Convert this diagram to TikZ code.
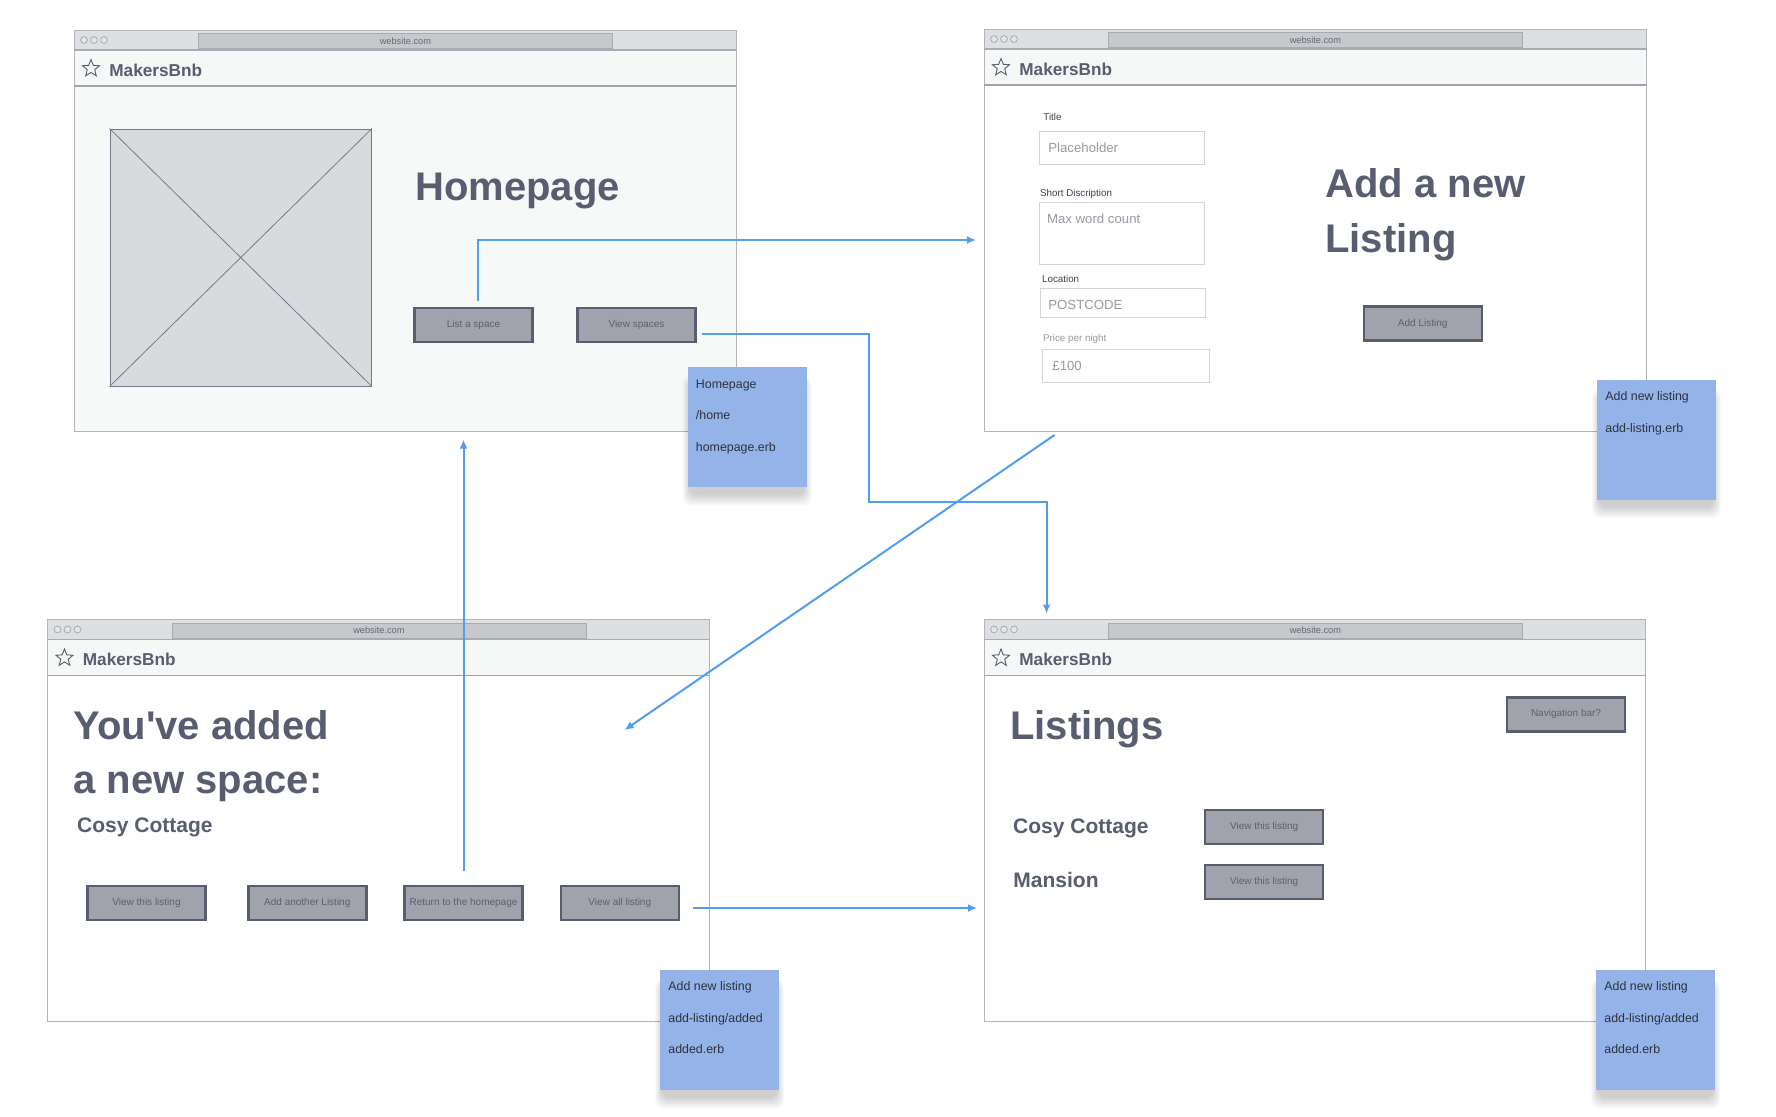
\documentclass[tikz,border=0pt]{standalone}
\usepackage{fontspec}
\setmainfont{Liberation Sans}
\newfontfamily\plainsans{Liberation Sans}
\usepackage{xcolor}
\definecolor{slate}{RGB}{88, 94, 112}
\definecolor{barfill}{RGB}{222, 223, 226}
\definecolor{headfill}{RGB}{246, 247, 247}
\definecolor{homebody}{RGB}{247, 248, 248}
\definecolor{urlfill}{RGB}{198, 200, 204}
\definecolor{urledge}{RGB}{168, 171, 177}
\definecolor{frameedge}{RGB}{178, 181, 188}
\definecolor{btnfill}{RGB}{160, 163, 171}
\definecolor{btntext}{RGB}{92, 96, 110}
\definecolor{urltext}{RGB}{100, 104, 116}
\definecolor{notefill}{RGB}{148, 179, 232}
\definecolor{notetext}{RGB}{45, 50, 62}
\definecolor{imgfill}{RGB}{217, 218, 221}
\definecolor{imgedge}{RGB}{118, 122, 135}
\definecolor{fieldedge}{RGB}{210, 212, 216}
\definecolor{phtext}{RGB}{150, 154, 163}
\definecolor{labeltext}{RGB}{60, 65, 78}
\definecolor{linkblue}{RGB}{82, 158, 238}
\usepackage{tikz}
\usetikzlibrary{positioning,arrows.meta,shapes.geometric}

\tikzset{
        pagetitle/.style={font=\fontsize{20}{24}\selectfont\bfseries, text=slate, inner sep=0pt, anchor=base west},
        itemname/.style={font=\fontsize{10.5}{12}\selectfont\bfseries, text=slate, inner sep=0pt, anchor=base west},
        brand/.style={font=\fontsize{8.6}{10}\selectfont\bfseries, text=slate, inner sep=0pt, anchor=base west},
        urlbar/.style={draw=urledge, fill=urlfill, line width=0.4pt, anchor=north west, minimum width=207pt, minimum height=7.5pt, inner sep=0pt, font=\fontsize{4.6}{5}\selectfont, text=urltext},
        btn/.style={draw=slate, line width=1.2pt, fill=btnfill, text=btntext, font=\fontsize{5}{6}\selectfont, minimum width=59pt, minimum height=17pt, inner sep=0pt},
        note/.style={fill=notefill, anchor=north west, minimum width=59.5pt, minimum height=60pt, inner sep=0pt},
        notetext/.style={font=\fontsize{6.2}{7}\selectfont, text=notetext, inner sep=0pt, anchor=base west},
        field/.style={draw=fieldedge, fill=white, line width=0.5pt, anchor=north west, minimum width=82.6pt, inner sep=0pt},
        fieldlabel/.style={font=\fontsize{4.9}{6}\selectfont, text=labeltext, inner sep=0pt, anchor=base west},
        placeholder/.style={font=\fontsize{6.6}{8}\selectfont, text=phtext, inner sep=0pt, anchor=base west},
        link/.style={draw=linkblue, line width=1pt, -{Latex[length=4.5pt,width=4pt]}}
}

% #1 name, (#2,#3) top left, (#4,#5) bottom right, #6 page colour
\newcommand{\browserwin}[6]{%
        \fill[#6] (#2,#3) rectangle (#4,#5);
        \fill[barfill] (#2,#3) rectangle (#4,#3+20);
        \fill[headfill] (#2,#3+20) rectangle (#4,#3+56);
        \draw[frameedge, line width=0.5pt] (#2,#3) rectangle (#4,#5);
        \draw[urledge, line width=0.6pt] (#2,#3+20) -- (#4,#3+20);
        \draw[frameedge!80!slate, line width=0.8pt] (#2,#3+56) -- (#4,#3+56);
        \foreach \d in {10,20,30}
                \draw[urledge, fill=barfill!80!white, line width=0.4pt] (#2+\d,#3+10) circle (1.7pt);
        \node[urlbar] (#1-url) at (#2+124,#3+3) {website.com};
        \node[star, star points=5, star point ratio=2.3, draw=slate, line width=0.45pt, minimum size=9pt, inner sep=0pt] (#1-star) at (#2+17,#3+38.5) {};
        \node[brand] (#1-brand) at (#2+35,#3+46) {MakersBnb};
}

% #1 name, (#2,#3) top left
\newcommand{\stickynote}[3]{%
        \foreach \k in {1,...,8}
                \fill[black, opacity=0.025, rounded corners=4pt] (#2-6+\k,#3+8+\k) rectangle (#2+125-\k,#3+140-1.5*\k);
        \node[note] (#1) at (#2,#3) {};
}

\begin{document}
\begin{tikzpicture}[x=0.5pt, y=-0.5pt]
        \fill[white] (0,0) rectangle (1776,1116);
        \useasboundingbox (0,0) rectangle (1776,1116);

        % homepage
        \browserwin{home}{74}{30}{736}{431}{homebody}
        \node[draw=imgedge, fill=imgfill, line width=0.5pt, minimum width=130.7pt, minimum height=128.5pt, inner sep=0pt] (home-img) at (240.75,257.5) {};
        \draw[imgedge, line width=0.4pt] (home-img.north west) -- (home-img.south east)
                (home-img.north east) -- (home-img.south west);
        \node[pagetitle] (home-title) at (415,200) {Homepage};
        \node[btn] (home-list) at (473.5,325) {List a space};
        \node[btn] (home-view) at (636.5,325) {View spaces};

        % add a listing
        \browserwin{add}{984}{29}{1646}{431}{white}
        \node[fieldlabel] (add-l1) at (1043,120.5) {Title};
        \node[field, minimum height=16.4pt] (add-f1) at (1038.7,131.4) {};
        \node[placeholder] (add-p1) at (1048,152.5) {Placeholder};
        \node[fieldlabel] (add-l2) at (1039.7,196) {Short Discription};
        \node[field, minimum height=31.2pt] (add-f2) at (1038.7,202) {};
        \node[placeholder] (add-p2) at (1046.7,223) {Max word count};
        \node[fieldlabel] (add-l3) at (1041.7,282.5) {Location};
        \node[field, minimum height=14.7pt] (add-f3) at (1040,288) {};
        \node[placeholder] (add-p3) at (1048,309) {POSTCODE};
        \node[fieldlabel, text=phtext] (add-l4) at (1042.7,341.8) {Price per night};
        \node[field, minimum height=16.4pt, minimum width=83.3pt] (add-f4) at (1042,349.3) {};
        \node[placeholder] (add-p4) at (1052,370.5) {£100};
        \node[pagetitle] (add-title1) at (1325,197) {Add a new};
        \node[pagetitle] (add-title2) at (1325,252) {Listing};
        \node[btn] (add-btn) at (1422.7,323.5) {Add Listing};

        % listing added
        \browserwin{added}{47.5}{619.5}{709}{1021}{white}
        \node[pagetitle, font=\fontsize{20}{24}\plainsans\bfseries] (added-title1) at (73,739) {You've added};
        \node[pagetitle] (added-title2) at (73,793.3) {a new space:};
        \node[itemname] (added-name) at (76.8,832.3) {Cosy Cottage};
        \node[btn] (added-view) at (146.5,903) {View this listing};
        \node[btn] (added-more) at (307.3,903) {Add another Listing};
        \node[btn] (added-home) at (463.5,903) {Return to the homepage};
        \node[btn] (added-all) at (619.8,903) {View all listing};

        % listings
        \browserwin{list}{984}{619.5}{1645.5}{1021}{white}
        \node[pagetitle] (list-title) at (1009.8,739) {Listings};
        \node[btn] (list-nav) at (1566,714.3) {Navigation bar?};
        \node[itemname] (list-name1) at (1012.8,833.3) {Cosy Cottage};
        \node[btn] (list-view1) at (1264.2,827) {View this listing};
        \node[itemname] (list-name2) at (1013,887.7) {Mansion};
        \node[btn] (list-view2) at (1264.2,882.2) {View this listing};

        % links between pages
        \coordinate (add-in) at (976,240);
        \coordinate (list-route) at (868.8,501.8);
        \coordinate (list-in) at (1046.6,613.5);
        \coordinate (add-out) at (1054.5,435);
        \coordinate (added-in) at (624.5,730);
        \coordinate (home-in) at (463.5,439.5);
        \coordinate (list-side) at (977,908);
        \draw[link] ([xshift=2pt,yshift=3pt]home-list.north) |- (add-in);
        \draw[link] ([xshift=2.5pt,yshift=-4.5pt]home-view.east) -| (list-route) -| (list-in);
        \draw[link] (add-out) -- (added-in);
        \draw[link] ([yshift=7pt]added-home.north) -- (home-in);
        \draw[link] ([xshift=6.5pt,yshift=-2.5pt]added-all.east) -- (list-side);

        % notes
        \stickynote{home-note}{687.5}{367}
        \foreach \t [count=\i] in {Homepage,/home,homepage.erb}
                \node[notetext] (home-note-\i) at (695.5,388+31.5*\i-31.5) {\t};
        \stickynote{add-note}{1597}{379.5}
        \foreach \t [count=\i] in {Add new listing,add-listing.erb}
                \node[notetext] (add-note-\i) at (1605,400.5+31.5*\i-31.5) {\t};
        \stickynote{added-note}{660}{970}
        \foreach \t [count=\i] in {Add new listing,add-listing/added,added.erb}
                \node[notetext] (added-note-\i) at (668,990.5+31.5*\i-31.5) {\t};
        \stickynote{list-note}{1596}{970}
        \foreach \t [count=\i] in {Add new listing,add-listing/added,added.erb}
                \node[notetext] (list-note-\i) at (1604,990.5+31.5*\i-31.5) {\t};
\end{tikzpicture}
\end{document}
